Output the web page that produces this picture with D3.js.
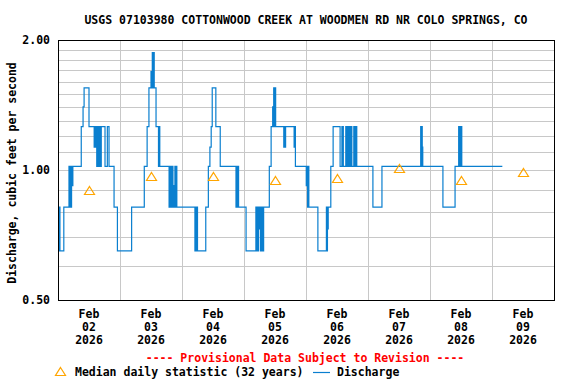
<!DOCTYPE html>
<html>
<head>
<meta charset="utf-8">
<script src="https://cdn.jsdelivr.net/npm/d3@7"></script>
<style>
  body { margin: 0; background: #fff; }
  svg text { font-family: "DejaVu Sans Mono", "Liberation Mono", monospace; font-weight: bold; font-size: 11.5px; }
</style>
</head>
<body>
<svg></svg>
<script>
  var width = 576;
  var height = 384;

  var title = 'USGS 07103980 COTTONWOOD CREEK AT WOODMEN RD NR COLO SPRINGS, CO';
  var yTitle = 'Discharge, cubic feet per second';
  var yTicks = [0.5, 1.0, 2.0];
  var yGrid = [0.6, 0.7, 0.8, 0.9, 1.0, 1.1, 1.2, 1.3, 1.4, 1.5, 1.6, 1.7, 1.8, 1.9];
  var dayLabels = ['02', '03', '04', '05', '06', '07', '08', '09'];

  // median daily statistic, one per day (noon)
  var medianDays = ['02', '03', '04', '05', '06', '07', '08', '09'];
  var medianValues = [0.90, 0.97, 0.97, 0.95, 0.96, 1.01, 0.95, 0.99];

  // discharge: [hours since Feb 02 00:00, cfs] - value holds until next entry
  var discharge = [
    [0, 0.82], [0.25, 0.65], [0.5, 0.82], [0.75, 0.65], [2.25, 0.82],
    [4.25, 1.02], [4.5, 0.82], [4.75, 1.02], [5, 0.82], [5.25, 1.02], [5.5, 0.92], [5.75, 1.02],
    [9, 1.26], [9.7, 1.4], [10.1, 1.55], [12, 1.26],
    [14, 1.13], [14.25, 1.26], [14.5, 1.13], [14.75, 1.26], [15, 1.02], [15.25, 1.26], [15.5, 1.02],
    [15.75, 1.26], [16, 1.02], [16.25, 1.26], [16.5, 1.02], [16.75, 1.26],
    [18.2, 1.02], [19.1, 1.26], [19.75, 1.02], [21.7, 0.82], [23, 0.65], [28.5, 0.82],
    [33.4, 1.02], [34.5, 1.26], [35.2, 1.55],
    [36, 1.69], [36.25, 1.55], [36.5, 1.87], [36.75, 1.55], [37, 1.87], [37.25, 1.55],
    [37.95, 1.26], [38.9, 1.02], [39.15, 1.26], [39.4, 1.02],
    [43, 0.82], [43.25, 1.02], [43.5, 0.82], [43.75, 1.02], [44, 0.82], [44.25, 1.02], [44.5, 0.82],
    [44.75, 0.92], [45, 0.82], [45.25, 1.02], [45.5, 0.82], [45.75, 1.02], [46, 0.82],
    [53, 0.65], [53.25, 0.82], [53.5, 0.65], [53.75, 0.82], [54, 0.65],
    [57.2, 0.82], [58.2, 1.02], [58.8, 1.13], [59.3, 1.26], [59.7, 1.55], [61.1, 1.26], [62.8, 1.02],
    [68.9, 0.82], [69.15, 1.02], [69.4, 0.82], [69.65, 1.02], [69.9, 0.82],
    [72.8, 0.65],
    [76.6, 0.82], [76.85, 0.65], [77.1, 0.82], [77.35, 0.65], [77.6, 0.82], [77.85, 0.73], [78.1, 0.82],
    [78.35, 0.65], [78.6, 0.82], [78.85, 0.65], [79.1, 0.82], [79.35, 0.65], [79.6, 0.82],
    [81.8, 1.02], [82.5, 1.26],
    [83.1, 1.4], [83.3, 1.26], [83.5, 1.55], [83.75, 1.26], [84, 1.55], [84.25, 1.26],
    [87.4, 1.13], [87.65, 1.26], [87.9, 1.13], [88.1, 1.26],
    [91.4, 1.13], [91.65, 1.26], [91.9, 1.02],
    [96.1, 0.92], [96.35, 1.02], [96.6, 0.82], [96.85, 1.02], [97.1, 0.82],
    [100.6, 0.65],
    [103.9, 0.82], [104.1, 0.65], [104.3, 0.82], [104.45, 0.73], [104.6, 0.82],
    [105.6, 1.02], [106.5, 1.26], [109.2, 1.02],
    [109.9, 1.26], [110.05, 1.13], [110.2, 1.02], [110.3, 1.26], [110.45, 1.02],
    [111.4, 1.26], [111.65, 1.02], [111.9, 1.26], [112.15, 1.02],
    [112.5, 1.26], [112.75, 1.02], [113, 1.26], [113.25, 1.02], [113.5, 1.26], [113.75, 1.02],
    [114.5, 1.26], [114.65, 1.02], [114.9, 1.26], [115.05, 1.02], [115.5, 1.26], [115.65, 1.02],
    [121.9, 0.82], [125.4, 1.02],
    [140.4, 1.26], [140.6, 1.02], [140.8, 1.26], [141, 1.13], [141.2, 1.02],
    [149, 0.82], [153.7, 1.02],
    [155.1, 1.26], [155.35, 1.02], [155.6, 1.26], [155.85, 1.02], [156.1, 1.26], [156.3, 1.02],
    [172, 1.02]
  ];

  var start = new Date(2026, 1, 2);
  var plot = { left: 58, right: 554, top: 40, bottom: 300 };

  var svg = d3.select('svg')
    .attr('width', width)
    .attr('height', height);

  var x = d3.scaleTime()
    .domain([start, d3.timeDay.offset(start, 8)])
    .range([plot.left, plot.right]);
  var y = d3.scaleLog()
    .domain([0.5, 2])
    .range([plot.bottom, plot.top]);

  var hour = function(h) { return d3.timeMinute.offset(start, Math.round(h * 60)); };

  // grid
  var grid = svg.append('g').attr('shape-rendering', 'crispEdges');
  grid.selectAll('line.h')
    .data(yGrid)
    .enter()
    .append('line')
    .attr('x1', plot.left).attr('x2', plot.right)
    .attr('y1', function(d) { return Math.round(y(d)) + 0.5; })
    .attr('y2', function(d) { return Math.round(y(d)) + 0.5; })
    .attr('stroke', '#c8c8c8');
  grid.selectAll('line.v')
    .data(d3.timeDay.range(d3.timeDay.offset(start, 1), d3.timeDay.offset(start, 8)))
    .enter()
    .append('line')
    .attr('y1', plot.top).attr('y2', plot.bottom)
    .attr('x1', function(d) { return Math.round(x(d)) + 0.5; })
    .attr('x2', function(d) { return Math.round(x(d)) + 0.5; })
    .attr('stroke', '#c8c8c8');

  // discharge line
  var line = d3.line()
    .x(function(d) { return x(hour(d[0])); })
    .y(function(d) { return y(d[1]); })
    .curve(d3.curveStepAfter);
  svg.append('path')
    .datum(discharge)
    .attr('d', line)
    .attr('fill', 'none')
    .attr('stroke', '#0a7fcf')
    .attr('stroke-width', 1.2);

  // median triangles
  var tri = function(cx, cy) {
    return 'M' + cx + ',' + (cy - 4) + 'L' + (cx + 5) + ',' + (cy + 4) + 'L' + (cx - 5) + ',' + (cy + 4) + 'Z';
  };
  svg.selectAll('path.median')
    .data(medianValues)
    .enter()
    .append('path')
    .attr('class', 'median')
    .attr('d', function(d, i) {
      var t = d3.timeHour.offset(new Date(2026, 1, +medianDays[i]), 12);
      return tri(Math.round(x(t)) + 0.5, Math.round(y(d)) + 0.5);
    })
    .attr('fill', 'none')
    .attr('stroke', '#ffa500')
    .attr('stroke-width', 1.2);

  // frame
  svg.append('rect')
    .attr('x', plot.left + 0.5).attr('y', plot.top + 0.5)
    .attr('width', plot.right - plot.left).attr('height', plot.bottom - plot.top)
    .attr('fill', 'none')
    .attr('stroke', '#000')
    .attr('shape-rendering', 'crispEdges');

  // y tick labels
  svg.selectAll('text.ytick')
    .data(yTicks)
    .enter()
    .append('text')
    .attr('x', 50)
    .attr('y', function(d) { return y(d) + 4; })
    .attr('text-anchor', 'end')
    .text(function(d) { return d.toFixed(2); });

  // x tick labels
  var xl = svg.selectAll('g.xtick')
    .data(dayLabels)
    .enter()
    .append('g')
    .attr('transform', function(d) {
      return 'translate(' + x(d3.timeHour.offset(new Date(2026, 1, +d), 12)) + ',0)';
    });
  xl.append('text').attr('y', 318).attr('text-anchor', 'middle').text('Feb');
  xl.append('text').attr('y', 331).attr('text-anchor', 'middle').text(function(d) { return d; });
  xl.append('text').attr('y', 344).attr('text-anchor', 'middle').text('2026');

  // titles
  svg.append('text')
    .attr('x', 306).attr('y', 24)
    .attr('text-anchor', 'middle')
    .text(title);
  svg.append('text')
    .attr('transform', 'translate(16,173) rotate(-90)')
    .attr('text-anchor', 'middle')
    .text(yTitle);
  svg.append('text')
    .attr('x', 305).attr('y', 362)
    .attr('text-anchor', 'middle')
    .attr('fill', '#ff0000')
    .text('---- Provisional Data Subject to Revision ----');

  // legend
  svg.append('path')
    .attr('d', tri(60.5, 371.5))
    .attr('fill', 'none')
    .attr('stroke', '#ffa500')
    .attr('stroke-width', 1.2);
  svg.append('text').attr('x', 75).attr('y', 376).text('Median daily statistic (32 years)');
  svg.append('line')
    .attr('x1', 313).attr('x2', 330)
    .attr('y1', 372.5).attr('y2', 372.5)
    .attr('stroke', '#0a7fcf')
    .attr('stroke-width', 1.2);
  svg.append('text').attr('x', 337).attr('y', 376).text('Discharge');
</script>
</body>
</html>
